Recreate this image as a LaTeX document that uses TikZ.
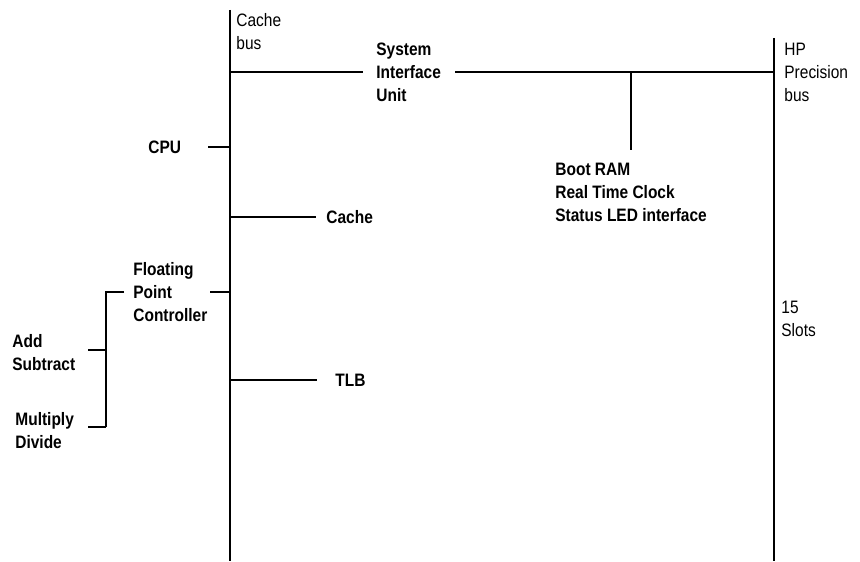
\documentclass[tikz,border=0pt]{standalone}
\usepackage{fontspec}
\setmainfont{Liberation Sans}[FakeStretch=0.86]
\usepackage{tikz}
\usetikzlibrary{positioning,calc}

\begin{document}
\begin{tikzpicture}[x=0.5pt,y=-0.5pt,
    lb/.style={font=\fontsize{9}{11.5}\selectfont\bfseries,align=left,inner sep=0pt,anchor=west},
    bl/.style={font=\fontsize{9}{11.5}\selectfont,align=left,inner sep=0pt,anchor=west},
    w/.style={line width=1pt,draw=black}]
    \useasboundingbox (0,0) rectangle (860,561);
    \coordinate (cbtop) at (230,10); \coordinate (cbbot) at (230,561);
    \coordinate (hptop) at (774,38); \coordinate (hpbot) at (774,561);
    \node[bl] (cbl) at (236,32) {Cache\\bus};
    \node[bl] (hpl) at (784,72) {HP\\Precision\\bus};
    \node[bl] (slots) at (781,319) {15\\Slots};
    \node[lb] (sys) at (376,72) {System\\Interface\\Unit};
    \node[lb] (boot) at (555,192) {Boot RAM\\Real Time Clock\\Status LED interface};
    \node[lb] (cpu) at (148,147) {CPU};
    \node[lb] (cache) at (326,217) {Cache};
    \node[lb] (fpc) at (133,292) {Floating\\Point\\Controller};
    \node[lb] (tlb) at (335,380) {TLB};
    \node[lb] (addsub) at (12,353) {Add\\Subtract};
    \node[lb] (muldiv) at (15,431) {Multiply\\Divide};
    \coordinate (sysl) at (230,72); \coordinate (sysr) at (774,72);
    \coordinate (bootj) at (631,72);
    \coordinate (cpuj) at (230,147); \coordinate (cachej) at (230,217);
    \coordinate (fpcj) at (230,292); \coordinate (tlbj) at (230,380);
    \coordinate (brtop) at (106,292); \coordinate (brmid) at (106,350); \coordinate (brbot) at (106,427);
    \draw[w] (cbtop) -- (cbbot); \draw[w] (hptop) -- (hpbot);
    \draw[w,shorten >=6.5pt] (sysl) -- (sys.west);
    \draw[w,shorten >=7pt] (sysr) -- (sys.east);
    \draw[w,shorten >=6pt] (bootj) -- (bootj |- boot.north);
    \draw[w,shorten >=13.5pt] (cpuj) -- (cpu.east);
    \draw[w,shorten >=5pt] (cachej) -- (cache.west);
    \draw[w,shorten >=9pt] (tlbj) -- (tlb.west);
    \draw[w,shorten >=1pt] (fpcj) -- (fpc.east);
    \draw[w,shorten <=4.5pt] (fpc.west) -- (brtop) -- (brbot);
    \draw[w,shorten >=6pt] (brmid) -- (brmid -| addsub.east);
    \draw[w,shorten >=6.8pt] (brbot) -- (brbot -| muldiv.east);
\end{tikzpicture}
\end{document}
